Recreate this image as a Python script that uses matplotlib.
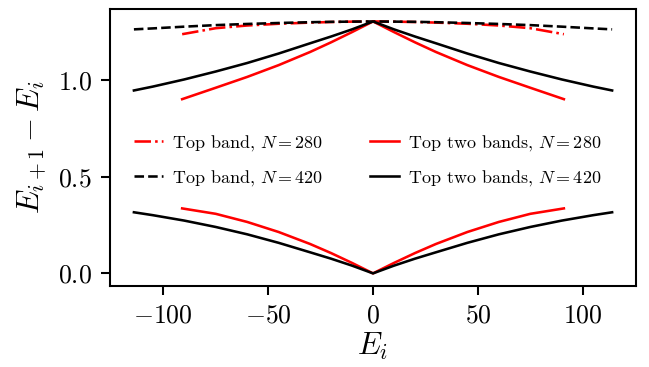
import matplotlib
matplotlib.use("Agg")
import matplotlib.pyplot as plt

plt.rcParams['font.family'] = 'serif'
plt.rcParams['font.serif'] = ['cmr10']
plt.rcParams['mathtext.fontset'] = 'cm'
plt.rcParams['axes.formatter.use_mathtext'] = True

# N = 420 sample energies
E_420 = [-114, -105, -90, -75, -60, -45, -30, -20, -10, 0, 10, 20, 30, 45, 60, 75, 90, 105, 114]
top_band_420 = [1.262, 1.267, 1.276, 1.284, 1.290, 1.295, 1.299, 1.301, 1.302, 1.303,
                1.302, 1.301, 1.299, 1.295, 1.290, 1.284, 1.276, 1.267, 1.262]
two_upper_420 = [0.946, 0.966, 1.003, 1.044, 1.088, 1.137, 1.190, 1.225, 1.262, 1.303,
                 1.262, 1.225, 1.190, 1.137, 1.088, 1.044, 1.003, 0.966, 0.946]
two_lower_420 = [0.316, 0.301, 0.273, 0.240, 0.202, 0.158, 0.109, 0.076, 0.040, 0.0,
                 0.040, 0.076, 0.109, 0.158, 0.202, 0.240, 0.273, 0.301, 0.316]

# N = 280 sample energies
E_280 = [-91, -75, -60, -45, -30, -20, -10, 0, 10, 20, 30, 45, 60, 75, 91]
top_band_280 = [1.237, 1.268, 1.282, 1.291, 1.297, 1.300, 1.302, 1.303,
                1.302, 1.300, 1.297, 1.291, 1.282, 1.268, 1.237]
two_upper_280 = [0.901, 0.960, 1.016, 1.077, 1.145, 1.195, 1.248, 1.303,
                 1.248, 1.195, 1.145, 1.077, 1.016, 0.960, 0.901]
two_lower_280 = [0.336, 0.308, 0.266, 0.214, 0.152, 0.105, 0.054, 0.0,
                 0.054, 0.105, 0.152, 0.214, 0.266, 0.308, 0.336]

fig = plt.figure(figsize=(3.5, 1.98), dpi=185.43)
ax = fig.add_axes([0.1695, 0.2207, 0.8105, 0.7548])

ax.plot(E_280, top_band_280, 'r-.', lw=1.0, label=r'Top band, $N=280$')
ax.plot(E_420, top_band_420, 'k--', lw=1.0, label=r'Top band, $N=420$')
ax.plot(E_280, two_upper_280, 'r-', lw=1.0, label=r'Top two bands, $N=280$')
ax.plot(E_280, two_lower_280, 'r-', lw=1.0)
ax.plot(E_420, two_upper_420, 'k-', lw=1.0, label=r'Top two bands, $N=420$')
ax.plot(E_420, two_lower_420, 'k-', lw=1.0)

ax.set_xlabel(r'$E_i$', fontsize=12, labelpad=1)
ax.set_ylabel(r'$E_{i+1} - E_i$', fontsize=12)
ax.set_yticks([0.0, 0.5, 1.0])

ax.legend(loc='center', bbox_to_anchor=(0.49, 0.453), ncol=2, frameon=False,
          fontsize=7, handlelength=1.6, handletextpad=0.5, columnspacing=2.6,
          labelspacing=0.8)

fig.savefig('out.png', dpi=185.43)
